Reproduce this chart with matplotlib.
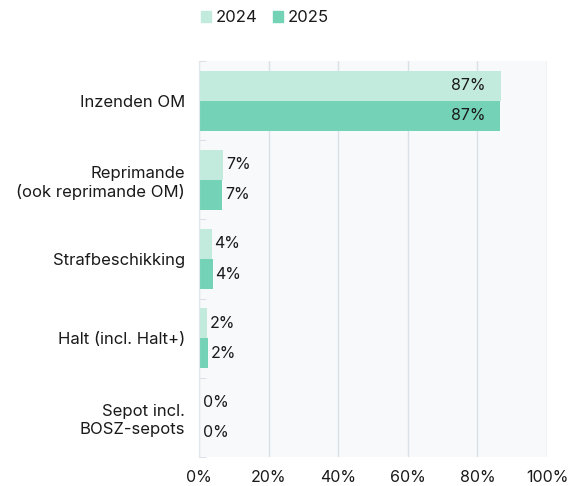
import numpy as np
from matplotlib import pyplot as plt
from matplotlib.patches import Patch

categories = ['Inzenden OM', 'Reprimande\n(ook reprimande OM)', 'Strafbeschikking',
              'Halt (incl. Halt+)', 'Sepot incl.\nBOSZ-sepots']
values_2024 = [86.7, 7.0, 3.6, 2.3, 0.3]
values_2025 = [86.5, 6.7, 3.9, 2.6, 0.3]
labels_2024 = ['87%', '7%', '4%', '2%', '0%']
labels_2025 = ['87%', '7%', '4%', '2%', '0%']
series_names = ['2024', '2025']

COLOR_2024 = '#c2ebdd'
COLOR_2025 = '#74d3b7'
TEXT = '#1a1a1a'
FS = 11.5

plt.rcParams['font.family'] = ['Inter', 'DejaVu Sans']

fig = plt.figure(figsize=(5.69, 4.86), dpi=100)
ax = fig.add_axes([199 / 569, 1 - 457 / 486, 348 / 569, 396 / 486])
ax.set_facecolor('#f7f9fb')

y = np.arange(len(categories))
h = 0.38
bars_a = ax.barh(y - h / 2, values_2024, height=h, color=COLOR_2024, zorder=2)
bars_b = ax.barh(y + h / 2, values_2025, height=h, color=COLOR_2025, zorder=2)

for bars, labels in [(bars_a, labels_2024), (bars_b, labels_2025)]:
    for bar, lab in zip(bars, labels):
        w = bar.get_width()
        yc = bar.get_y() + bar.get_height() / 2
        if w > 50:
            ax.text(w - 4.3, yc, lab, ha='right', va='center', fontsize=FS, color=TEXT, zorder=3)
        else:
            ax.text(w + 0.8, yc, lab, ha='left', va='center', fontsize=FS, color=TEXT, zorder=3)

ax.set_xlim(0, 100)
ax.set_ylim(len(categories) - 0.5, -0.5)
ax.set_xticks([0, 20, 40, 60, 80, 100])
ax.set_xticklabels(['0%', '20%', '40%', '60%', '80%', '100%'], fontsize=FS, color=TEXT)
ax.set_yticks(y)
ax.set_yticklabels(categories, fontsize=12, color=TEXT, linespacing=1.25)
ax.tick_params(axis='y', length=0, pad=10)
ax.tick_params(axis='x', length=0, pad=9)
ax.set_yticks(np.arange(-0.5, len(categories), 1), minor=True)
ax.tick_params(axis='y', which='minor', direction='in', length=5, color='#d5dce4')

ax.grid(axis='x', color='#d9e0e8', linewidth=1, zorder=1)
for s in ['top', 'right', 'bottom']:
    ax.spines[s].set_visible(False)
ax.spines['left'].set_color('#e1e6ec')

handles = [Patch(color=COLOR_2024), Patch(color=COLOR_2025)]
fig.legend(handles, series_names, loc='upper left', bbox_to_anchor=(186 / 569, 1.01),
           ncol=2, frameon=False, fontsize=12, handlelength=0.6, handleheight=0.6,
           handletextpad=0.3, columnspacing=0.9, labelcolor=TEXT)

plt.savefig('out.png', dpi=100)
